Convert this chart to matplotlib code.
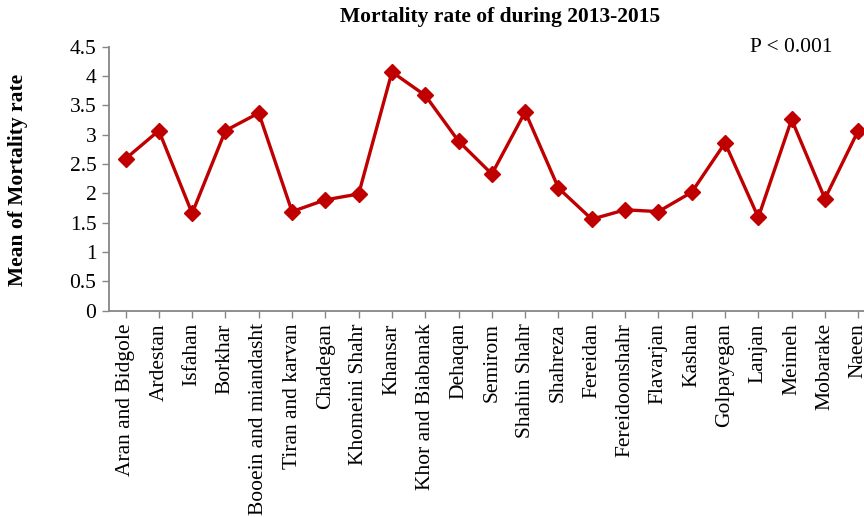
"""
Mean mortality rate by county, 2013-2015 (line chart with diamond markers)
"""

import matplotlib
matplotlib.use('Agg')
import matplotlib.pyplot as plt
import numpy as np

counties = ['Aran and Bidgole', 'Ardestan', 'Isfahan', 'Borkhar',
            'Booein and miandasht', 'Tiran and karvan', 'Chadegan',
            'Khomeini Shahr', 'Khansar', 'Khor and Biabanak', 'Dehaqan',
            'Semirom', 'Shahin Shahr', 'Shahreza', 'Fereidan',
            'Fereidoonshahr', 'Flavarjan', 'Kashan', 'Golpayegan', 'Lanjan',
            'Meimeh', 'Mobarake', 'Naeen']
mortality = [2.59, 3.07, 1.66, 3.07, 3.37, 1.69, 1.89,
             1.99, 4.07, 3.67, 2.89, 2.33, 3.39, 2.09, 1.56,
             1.72, 1.69, 2.02, 2.86, 1.59, 3.26, 1.91, 3.07]
y_ticks = [0, 0.5, 1, 1.5, 2, 2.5, 3, 3.5, 4, 4.5]

plt.rcParams['font.family'] = ['Liberation Serif', 'DejaVu Serif']
axis_grey = '#868686'
fs = 15.5

fig = plt.figure(figsize=(8.64, 5.17), dpi=100)
# the category axis runs a little past the right edge, like the cropped original
ax = fig.add_axes([0.126, 0.399, 0.8866, 0.5106])

x = np.arange(len(counties))
ax.plot(x, mortality, color='#C00000', linewidth=2.4, marker='D',
        markersize=8, clip_on=False, zorder=3)

ax.set_xlim(-0.5, len(counties) - 0.5)
ax.set_ylim(0, 4.5)
ax.set_xticks(x)
ax.set_xticklabels(counties, rotation=90, fontsize=fs)
ax.set_yticks(y_ticks)
ax.set_yticklabels(['%g' % v for v in y_ticks], fontsize=fs)

for side in ['top', 'right']:
    ax.spines[side].set_visible(False)
for side in ['left', 'bottom']:
    ax.spines[side].set_color(axis_grey)
    ax.spines[side].set_linewidth(1.3)
ax.tick_params(axis='both', direction='out', length=5, color=axis_grey,
               width=1, pad=4, labelcolor='black')

fig.text(18 / 864, 1 - 180 / 517, 'Mean of Mortality rate', rotation=90,
         ha='center', va='center', fontsize=fs, fontweight='bold')
fig.text(500 / 864, 1 - 17 / 517, 'Mortality rate of during 2013-2015',
         ha='center', va='center', fontsize=fs, fontweight='bold')
fig.text(791 / 864, 1 - 47 / 517, 'P < 0.001', ha='center', va='center',
         fontsize=fs)

fig.savefig('out.png', dpi=100)
